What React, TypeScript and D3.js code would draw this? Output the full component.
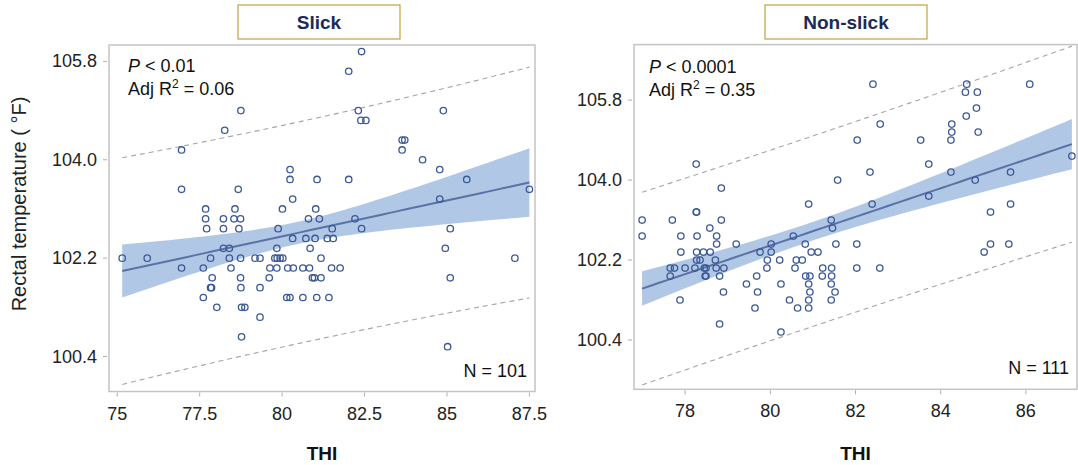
import React from "react";
import * as d3 from "d3";

// [THI, rectal temperature °F]
const slickPoints: [number, number][] = [
  [82.41, 105.98], [82.02, 105.62],
  [78.75, 104.9], [82.31, 104.9], [84.89, 104.9],
  [82.39, 104.72], [82.54, 104.72],
  [78.26, 104.54],
  [83.64, 104.36], [83.72, 104.36],
  [76.95, 104.18], [83.64, 104.18],
  [84.26, 104.0],
  [80.24, 103.82], [84.78, 103.82],
  [80.24, 103.64], [81.06, 103.64], [82.02, 103.64], [85.6, 103.64],
  [76.95, 103.46], [78.67, 103.46], [87.5, 103.46],
  [80.32, 103.28], [84.78, 103.28],
  [77.68, 103.1], [78.57, 103.1], [80.01, 103.1], [81.02, 103.1],
  [77.68, 102.92], [78.22, 102.92], [78.54, 102.92], [78.74, 102.92], [80.8, 102.92], [81.13, 102.92], [82.21, 102.92],
  [77.71, 102.74], [78.22, 102.74], [78.69, 102.74], [79.88, 102.74], [81.52, 102.74], [82.41, 102.74], [85.1, 102.74],
  [80.32, 102.56], [80.72, 102.56], [81.0, 102.56], [81.37, 102.56], [81.55, 102.56],
  [78.22, 102.38], [78.4, 102.38], [79.84, 102.38], [80.85, 102.38], [84.95, 102.38],
  [75.15, 102.2], [75.91, 102.2], [77.83, 102.2], [78.4, 102.2], [78.74, 102.2], [79.18, 102.2], [79.33, 102.2],
  [79.78, 102.2], [79.85, 102.2], [79.94, 102.2], [80.02, 102.2], [81.18, 102.2], [87.06, 102.2],
  [76.95, 102.02], [77.61, 102.02], [78.45, 102.02], [79.63, 102.02], [79.84, 102.02], [80.17, 102.02],
  [80.34, 102.02], [80.63, 102.02], [80.83, 102.02], [81.5, 102.02], [81.76, 102.02],
  [77.88, 101.84], [78.74, 101.84], [79.61, 101.84], [80.92, 101.84], [80.98, 101.84], [81.18, 101.84], [85.1, 101.84],
  [77.83, 101.66], [77.86, 101.66], [78.75, 101.66], [79.33, 101.66],
  [77.61, 101.48], [80.14, 101.48], [80.24, 101.48], [80.63, 101.48], [81.05, 101.48], [81.42, 101.48],
  [78.02, 101.3], [78.77, 101.3], [78.87, 101.3],
  [79.33, 101.12],
  [78.77, 100.76],
  [85.02, 100.58],
];

const nonSlickPoints: [number, number][] = [
  [82.41, 106.16], [84.61, 106.16], [86.09, 106.16],
  [84.58, 105.98], [84.86, 105.98],
  [84.84, 105.62],
  [84.6, 105.44],
  [82.58, 105.26], [84.26, 105.26],
  [84.26, 105.08], [84.88, 105.08],
  [82.04, 104.9], [83.53, 104.9], [84.24, 104.9],
  [87.08, 104.54],
  [78.26, 104.36], [83.72, 104.36],
  [82.34, 104.18], [84.24, 104.18], [85.64, 104.18],
  [81.58, 104.0], [84.81, 104.0],
  [78.85, 103.82],
  [83.72, 103.64],
  [80.9, 103.46], [82.39, 103.46], [85.64, 103.46],
  [78.26, 103.28], [78.27, 103.28], [85.17, 103.28],
  [76.99, 103.1], [77.7, 103.1], [78.85, 103.1], [81.43, 103.1],
  [78.58, 102.92], [81.46, 102.92],
  [76.99, 102.74], [77.9, 102.74], [78.28, 102.74], [78.74, 102.74], [80.54, 102.74],
  [78.74, 102.56], [79.2, 102.56], [80.02, 102.56], [80.82, 102.56], [81.54, 102.56], [82.03, 102.56], [85.17, 102.56], [85.6, 102.56],
  [77.9, 102.38], [78.27, 102.38], [78.43, 102.38], [78.59, 102.38], [79.76, 102.38], [80.02, 102.38], [80.96, 102.38], [81.12, 102.38], [85.02, 102.38],
  [78.27, 102.2], [78.35, 102.2], [78.71, 102.2], [79.93, 102.2], [80.22, 102.2], [80.61, 102.2], [80.75, 102.2],
  [77.65, 102.02], [77.75, 102.02], [78.0, 102.02], [78.23, 102.02], [78.45, 102.02], [78.49, 102.02], [78.73, 102.02],
  [78.91, 102.02], [79.92, 102.02], [80.58, 102.02], [81.23, 102.02], [81.44, 102.02], [82.03, 102.02], [82.57, 102.02],
  [77.65, 101.84], [78.47, 101.84], [78.49, 101.84], [78.81, 101.84], [79.68, 101.84], [80.83, 101.84], [80.93, 101.84], [81.22, 101.84], [81.44, 101.84],
  [79.44, 101.66], [80.25, 101.66], [80.9, 101.66], [81.43, 101.66],
  [78.9, 101.48], [79.7, 101.48], [80.93, 101.48], [81.52, 101.48],
  [77.88, 101.3], [80.45, 101.3], [80.9, 101.3], [81.43, 101.3],
  [79.64, 101.12], [80.64, 101.12], [80.9, 101.12],
  [78.81, 100.76],
  [80.25, 100.58],
];

const slickXTicks = [75, 77.5, 80, 82.5, 85, 87.5];
const nonSlickXTicks = [78, 80, 82, 84, 86];
const tempTicks = [100.4, 102.2, 104.0, 105.8];

const font = "Arial, 'Liberation Sans', sans-serif";

// least squares fit with 95% confidence and prediction limits
function fitBands(points: [number, number][]) {
  const n = points.length;
  const mx = d3.mean(points, (d) => d[0])!;
  const my = d3.mean(points, (d) => d[1])!;
  const sxx = d3.sum(points, (d) => (d[0] - mx) ** 2);
  const sxy = d3.sum(points, (d) => (d[0] - mx) * (d[1] - my));
  const b = sxy / sxx;
  const a = my - b * mx;
  const sse = d3.sum(points, (d) => (d[1] - a - b * d[0]) ** 2);
  const s = Math.sqrt(sse / (n - 2));
  const t = 1.984;
  const [x0, x1] = d3.extent(points, (d) => d[0]) as [number, number];
  return d3.range(0, 51).map((i) => {
    const x = x0 + ((x1 - x0) * i) / 50;
    const y = a + b * x;
    const h = 1 / n + (x - mx) ** 2 / sxx;
    const ci = t * s * Math.sqrt(h);
    const pi = t * s * Math.sqrt(1 + h);
    return { x, y, ciLo: y - ci, ciHi: y + ci, piLo: y - pi, piHi: y + pi };
  });
}

function Panel(props: any) {
  const { points, xTicks, xDomain, yDomain, frame, title, titleBox, pText, r2Text, nText, showYTitle } = props;
  const x = d3.scaleLinear().domain(xDomain).range([frame.left, frame.right]);
  const y = d3.scaleLinear().domain(yDomain).range([frame.bottom, frame.top]);
  const bands = fitBands(points);

  const area = d3.area<any>().x((d) => x(d.x)).y0((d) => y(d.ciLo)).y1((d) => y(d.ciHi));
  const line = (key: string) => d3.line<any>().x((d) => x(d.x)).y((d) => y(d[key]))(bands)!;
  const cx = (frame.left + frame.right) / 2;

  return (
    <g fontFamily={font}>
      <rect x={titleBox[0]} y={5} width={titleBox[1] - titleBox[0]} height={34} fill="#fff" stroke="#c9a84c" strokeWidth={1.3} />
      <text x={(titleBox[0] + titleBox[1]) / 2} y={29} textAnchor="middle" fontSize={19} fontWeight="bold" fill="#1b2a5a">
        {title}
      </text>

      <rect x={frame.left} y={frame.top} width={frame.right - frame.left} height={frame.bottom - frame.top} fill="#fff" stroke="#c4c4c4" strokeWidth={1.5} />

      <path d={area(bands)!} fill="#b1c7e6" />
      <path d={line("y")} fill="none" stroke="#5a72a5" strokeWidth={2} />
      <path d={line("piHi")} fill="none" stroke="#a4a4b0" strokeWidth={1.1} strokeDasharray="5,4" />
      <path d={line("piLo")} fill="none" stroke="#a4a4b0" strokeWidth={1.1} strokeDasharray="5,4" />

      {points.map((d: [number, number], i: number) => (
        <circle key={i} cx={x(d[0])} cy={y(d[1])} r={3.2} fill="none" stroke="#3b5896" strokeWidth={1.3} />
      ))}

      {tempTicks.map((t) => (
        <g key={t}>
          <line x1={frame.left - 6} x2={frame.left - 2} y1={y(t)} y2={y(t)} stroke="#b0b0b0" />
          <text x={frame.left - 12} y={y(t) + 6} textAnchor="end" fontSize={18} fill="#222">
            {t.toFixed(1)}
          </text>
        </g>
      ))}
      {xTicks.map((t: number) => (
        <g key={t}>
          <line x1={x(t)} x2={x(t)} y1={frame.bottom + 1} y2={frame.bottom + 5} stroke="#b0b0b0" />
          <text x={x(t)} y={frame.bottom + 28} textAnchor="middle" fontSize={18} fill="#222">
            {String(t)}
          </text>
        </g>
      ))}

      <text x={cx} y={460} textAnchor="middle" fontSize={19} fontWeight="bold" fill="#111">
        THI
      </text>
      {showYTitle && (
        <text transform="translate(26,204) rotate(-90)" textAnchor="middle" fontSize={20} fill="#222">
          Rectal temperature ( °F)
        </text>
      )}

      <text x={frame.left + pText[0]} y={frame.top + pText[1]} fontSize={18} fill="#111">
        <tspan fontStyle="italic">P</tspan> {`< ${pText[2]}`}
      </text>
      <text x={frame.left + pText[0]} y={frame.top + pText[1] + 23} fontSize={18} fill="#111">
        Adj R<tspan fontSize={12} dy={-7}>2</tspan>
        <tspan dy={7}>{` = ${r2Text}`}</tspan>
      </text>
      <text x={frame.right - 8} y={frame.bottom - 15} textAnchor="end" fontSize={18} fill="#111">
        {nText}
      </text>
    </g>
  );
}

export default function App() {
  return (
    <svg width={1078} height={465} style={{ position: "absolute", left: 0, top: 0, background: "#fff" }}>
      <Panel
        points={slickPoints}
        xTicks={slickXTicks}
        xDomain={[74.75, 87.67]}
        yDomain={[99.76, 106.1]}
        frame={{ left: 109, right: 535, top: 45, bottom: 391.5 }}
        title="Slick"
        titleBox={[238, 400]}
        pText={[19, 27, "0.01"]}
        r2Text="0.06"
        nText="N = 101"
        showYTitle
      />
      <Panel
        points={nonSlickPoints}
        xTicks={nonSlickXTicks}
        xDomain={[76.8, 87.2]}
        yDomain={[99.29, 107.05]}
        frame={{ left: 634, right: 1077, top: 44.6, bottom: 389.3 }}
        title="Non-slick"
        titleBox={[765, 927]}
        pText={[15, 28, "0.0001"]}
        r2Text="0.35"
        nText="N = 111"
        showYTitle={false}
      />
    </svg>
  );
}
